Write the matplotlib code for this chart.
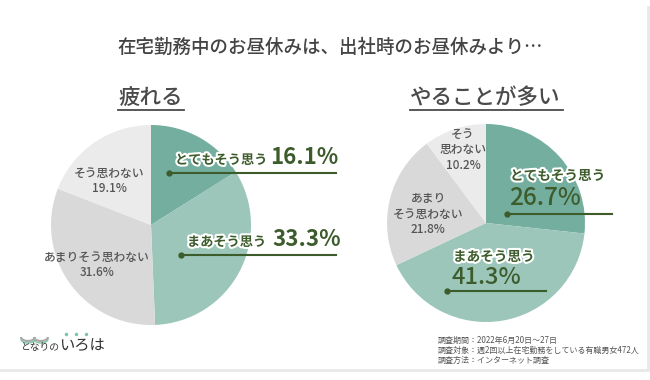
import matplotlib
matplotlib.use("Agg")
import matplotlib.pyplot as plt
import matplotlib.patheffects as pe
from matplotlib.patches import Arc

plt.rcParams['font.family'] = ['Noto Sans CJK JP', 'DejaVu Sans']

# ---- data ----
title = "在宅勤務中のお昼休みは、出社時のお昼休みより…"
chart_titles = ["疲れる", "やることが多い"]
categories = ["とてもそう思う", "まあそう思う", "あまりそう思わない", "そう思わない"]
tired_values = [16.1, 33.3, 31.6, 19.1]
busy_values = [26.7, 41.3, 21.8, 10.2]
footer_lines = ["調査期間：2022年6月20日～27日",
                "調査対象：週2回以上在宅勤務をしている有職男女472人",
                "調査方法：インターネット調査"]
logo_small = "となりの"
logo_big = "いろは"

colors = ["#74ae9e", "#9bc6b9", "#d9d9d9", "#ebebeb"]
green = "#3d5c2c"
gray_txt = "#555555"

W, H = 650, 380
fig = plt.figure(figsize=(W / 100, H / 100), dpi=100)
fig.patch.set_facecolor("white")


def pie_axes(cx, cy, r):
    ax = fig.add_axes([(cx - r) / W, 1 - (cy + r) / H, 2 * r / W, 2 * r / H])
    ax.set_aspect("equal")
    return ax


ax1 = pie_axes(151, 225, 100)
ax1.pie(tired_values, colors=colors, startangle=90, counterclock=False,
        radius=1, wedgeprops=dict(linewidth=0))
ax1.set_xlim(-1, 1); ax1.set_ylim(-1, 1); ax1.axis("off")

ax2 = pie_axes(486, 223, 99)
ax2.pie(busy_values, colors=colors, startangle=90, counterclock=False,
        radius=1, wedgeprops=dict(linewidth=0))
ax2.set_xlim(-1, 1); ax2.set_ylim(-1, 1); ax2.axis("off")

# overlay in pixel coordinates
ov = fig.add_axes([0, 0, 1, 1], zorder=5)
ov.set_xlim(0, W); ov.set_ylim(H, 0); ov.axis("off")
ov.patch.set_alpha(0)

# card frame
ov.plot([648, 648], [7, 370], color="#e8e8e8", lw=2)
ov.plot([0, 648], [370, 370], color="#e8e8e8", lw=2)

ov.text(330, 47, title, fontsize=13.3, color="#444444", ha="center", va="center",
        fontweight="medium")

ov.text(118, 98, chart_titles[0], fontsize=15.5, color="#4a4a4a", ha="left", va="center", fontweight="medium")
ov.plot([118, 184], [110, 110], color="#4a4a4a", lw=1.3)
ov.text(410, 98, chart_titles[1], fontsize=15.5, color="#4a4a4a", ha="left", va="center", fontweight="medium")
ov.plot([410, 563], [110, 110], color="#4a4a4a", lw=1.3)

stroke = [pe.withStroke(linewidth=3, foreground="white")]


def pct(v):
    return f"{v:.1f}%"


# left pie labels
ov.text(175, 160, categories[0], fontsize=9.5, color=green, ha="left", va="center",
        fontweight="bold", path_effects=stroke)
ov.text(270, 158, pct(tired_values[0]), fontsize=16, color=green, ha="left", va="center",
        fontweight="bold")
ov.plot([169, 336], [173, 173], color=green, lw=1.5)
ov.plot([169], [173], "o", color=green, ms=3.5)

ov.text(187, 242, categories[1], fontsize=9.5, color=green, ha="left", va="center",
        fontweight="bold", path_effects=stroke)
ov.text(272, 240, pct(tired_values[1]), fontsize=16, color=green, ha="left", va="center",
        fontweight="bold")
ov.plot([181, 336], [255, 255], color=green, lw=1.5)
ov.plot([181], [255], "o", color=green, ms=3.5)

ov.text(109, 181, "そう思わない\n" + pct(tired_values[3]), fontsize=8.5, color=gray_txt,
        ha="center", va="center", linespacing=1.3, fontweight="medium")
ov.text(97, 265, "あまりそう思わない\n" + pct(tired_values[2]), fontsize=8.5, color=gray_txt,
        ha="center", va="center", linespacing=1.3, fontweight="medium")

# right pie labels
ov.text(510, 176, categories[0], fontsize=9.8, color=green, ha="left", va="center",
        fontweight="bold", path_effects=stroke)
ov.text(509, 198, pct(busy_values[0]), fontsize=17.5, color=green, ha="left", va="center",
        fontweight="medium")
ov.plot([507, 612], [214, 214], color=green, lw=1.5)
ov.plot([507], [214], "o", color=green, ms=3.5)

ov.text(453, 257, categories[1], fontsize=9.8, color=green, ha="left", va="center",
        fontweight="bold", path_effects=stroke)
ov.text(452, 278, pct(busy_values[1]), fontsize=17, color=green, ha="left", va="center",
        fontweight="medium")
ov.plot([447, 546], [291, 291], color=green, lw=1.5)
ov.plot([447], [291], "o", color=green, ms=3.5)

ov.text(463, 150, "そう\n思わない\n" + pct(busy_values[3]), fontsize=8.5, color=gray_txt,
        ha="center", va="center", linespacing=1.25, fontweight="medium")
ov.text(428, 214, "あまり\nそう思わない\n" + pct(busy_values[2]), fontsize=8.5, color=gray_txt,
        ha="center", va="center", linespacing=1.25, fontweight="medium")

# footer
for i, line in enumerate(footer_lines):
    ov.text(438, 340 + i * 10, line, fontsize=5.8, color="#555555", ha="left", va="center")

# logo
ov.text(20, 347, logo_small, fontsize=7, color="#333333", ha="left", va="center")
ov.text(59, 345, logo_big, fontsize=11, color="#333333", ha="left", va="center")
for cx in (28, 41):
    ov.add_patch(Arc((cx, 337), 14, 8, theta1=0, theta2=180, color="#aaaaaa", lw=1.6))
    ov.add_patch(Arc((cx, 339), 14, 8, theta1=0, theta2=180, color="#7cc6a6", lw=1.0))
for dx in (66, 76, 86):
    ov.plot([dx], [334], "o", color="#7cc6a6", ms=1.5)

fig.savefig("out.png", dpi=100, facecolor="white")
